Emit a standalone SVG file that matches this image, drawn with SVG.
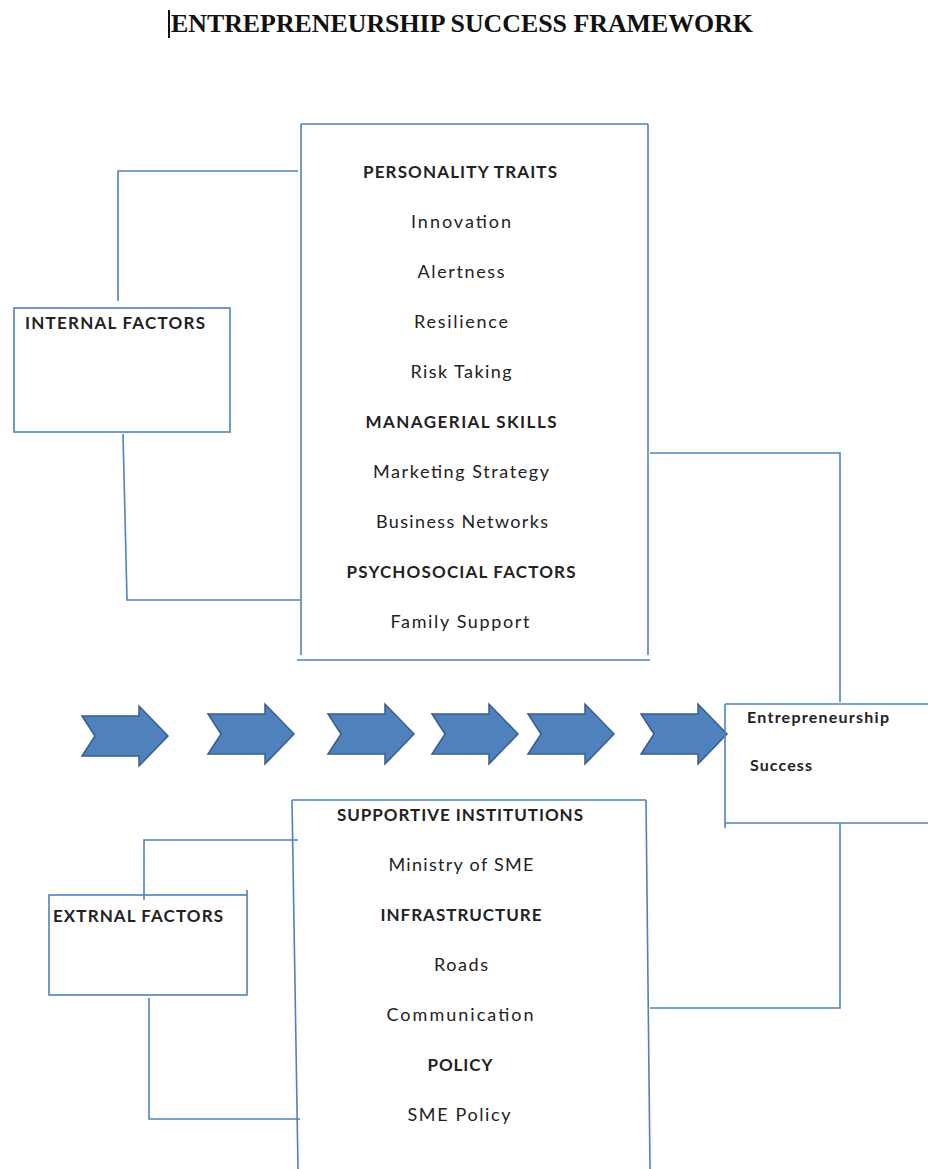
<svg xmlns="http://www.w3.org/2000/svg" width="928" height="1169" viewBox="0 0 928 1169">
<style>
.ln{fill:none;stroke:#4F81BD;stroke-width:1.6}
.t{font-family:Lato,"Open Sans","Liberation Sans",sans-serif;font-size:18px;fill:#222}
.b{font-weight:bold;font-size:17px}
.c{text-anchor:middle}
.title{font-family:"Liberation Serif","Times New Roman",serif;font-size:25px;font-weight:bold;fill:#111}
.arr{fill:#4F81BD;stroke:#385D8A;stroke-width:1.5;stroke-linejoin:miter}
</style>
<defs>
<polygon id="arrow" class="arr" points="0,-20 57,-20 57,-30 86,0 57,30 57,20 0,20 13,0"/>
</defs>
<rect width="928" height="1169" fill="#fff"/>
<g id="title">
<line x1="169" y1="10" x2="169" y2="38" stroke="#111" stroke-width="2"/>
<text class="title" x="171" y="32" textLength="582" lengthAdjust="spacingAndGlyphs">ENTREPRENEURSHIP SUCCESS FRAMEWORK</text>
</g>
<g id="connectors">
<path class="ln" d="M118,301 V171 H298"/>
<path class="ln" d="M123,434 L127,600 H300"/>
<path class="ln" d="M650,453 H840 V702"/>
<path class="ln" d="M840,823 V1008 H650"/>
<path class="ln" d="M144,900 V840 H298"/>
<path class="ln" d="M149,998 V1119 H300"/>
</g>
<g id="internal-factors">
<rect class="ln" x="14" y="308" width="216" height="124"/>
<text class="t b" x="25" y="329" textLength="180" lengthAdjust="spacing">INTERNAL FACTORS</text>
</g>
<g id="internal-box">
<path class="ln" d="M301,124 H648 M301,124 V655 M648,124 V655 M297,660 H650"/>
<text class="t b c" x="460" y="178" textLength="194" lengthAdjust="spacing">PERSONALITY TRAITS</text>
<text class="t c" x="461" y="228" textLength="100" lengthAdjust="spacing">Innovation</text>
<text class="t c" x="461" y="278" textLength="87" lengthAdjust="spacing">Alertness</text>
<text class="t c" x="461" y="328" textLength="94" lengthAdjust="spacing">Resilience</text>
<text class="t c" x="461" y="378" textLength="101" lengthAdjust="spacing">Risk Taking</text>
<text class="t b c" x="461" y="428" textLength="191" lengthAdjust="spacing">MANAGERIAL SKILLS</text>
<text class="t c" x="461" y="478" textLength="176" lengthAdjust="spacing">Marketing Strategy</text>
<text class="t c" x="462" y="528" textLength="172" lengthAdjust="spacing">Business Networks</text>
<text class="t b c" x="461" y="578" textLength="229" lengthAdjust="spacing">PSYCHOSOCIAL FACTORS</text>
<text class="t c" x="460" y="628" textLength="139" lengthAdjust="spacing">Family Support</text>
</g>
<g id="arrows">
<use href="#arrow" x="82" y="736"/>
<use href="#arrow" x="208" y="734"/>
<use href="#arrow" x="328" y="734"/>
<use href="#arrow" x="432" y="734"/>
<use href="#arrow" x="528" y="734"/>
<use href="#arrow" x="641" y="734"/>
</g>
<g id="success">
<path class="ln" d="M725,704 H928 M725,704 V828 M725,823 H928"/>
<text class="t" style="font-weight:bold;font-size:16px" x="747" y="723" textLength="142" lengthAdjust="spacing">Entrepreneurship</text>
<text class="t" style="font-weight:bold;font-size:16px" x="750" y="771" textLength="62" lengthAdjust="spacing">Success</text>
</g>
<g id="external-factors">
<rect class="ln" x="49" y="895" width="198" height="100"/>
<path class="ln" d="M247,890 V895"/>
<text class="t b" x="53" y="922" textLength="170" lengthAdjust="spacing">EXTRNAL FACTORS</text>
</g>
<g id="external-box">
<path class="ln" d="M292,800 H646 M292,800 L298,1169 M646,800 L650,1169"/>
<text class="t b c" x="460" y="821" textLength="246" lengthAdjust="spacing">SUPPORTIVE INSTITUTIONS</text>
<text class="t c" x="461" y="871" textLength="145" lengthAdjust="spacing">Ministry of SME</text>
<text class="t b c" x="461" y="921" textLength="161" lengthAdjust="spacing">INFRASTRUCTURE</text>
<text class="t c" x="461" y="971" textLength="54" lengthAdjust="spacing">Roads</text>
<text class="t c" x="460" y="1021" textLength="147" lengthAdjust="spacing">Communication</text>
<text class="t b c" x="460" y="1071" textLength="65" lengthAdjust="spacing">POLICY</text>
<text class="t c" x="459" y="1121" textLength="103" lengthAdjust="spacing">SME Policy</text>
</g>
</svg>
